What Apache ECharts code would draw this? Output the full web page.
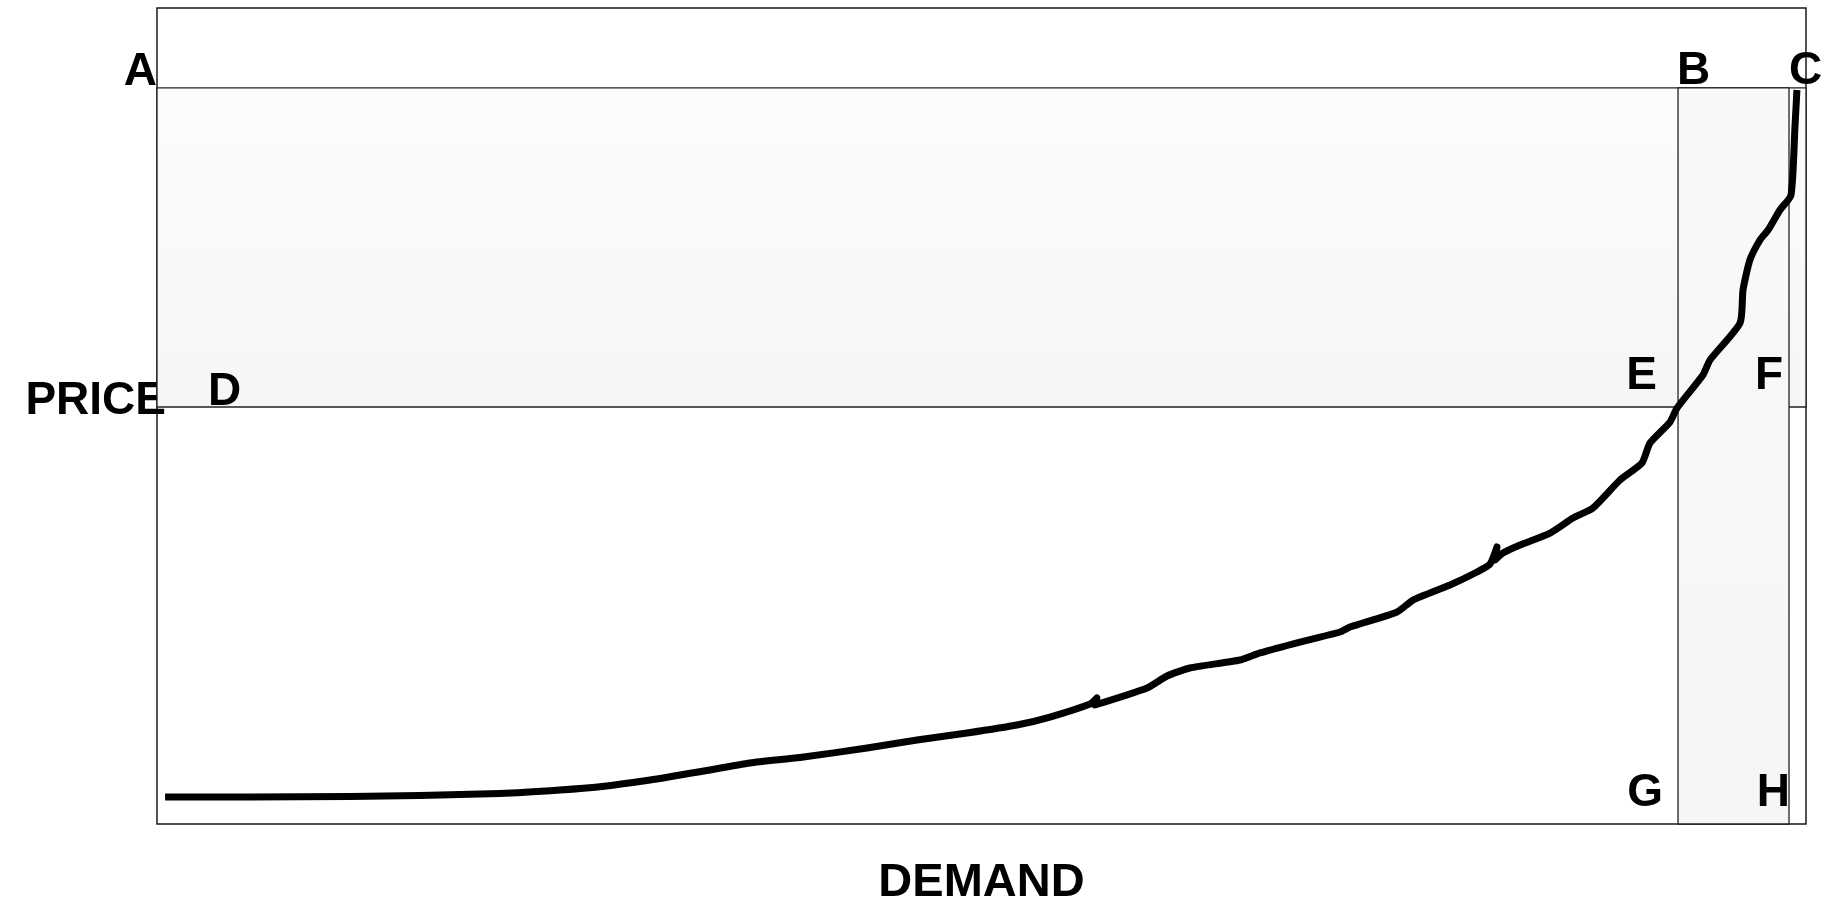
<!DOCTYPE html>
<html><head><meta charset="utf-8">
<script src="https://cdn.jsdelivr.net/npm/echarts@6/dist/echarts.min.js"></script>
<style>html,body{margin:0;padding:0;background:#fff}#c{width:1831px;height:900px}</style>
</head><body><div id="c"></div>
<script>
// Demand (x) and price (y) of the curve, on a 0-100 scale
const demand = [0.49, 5.64, 11.70, 15.95, 20.80, 24.44, 26.86, 29.90, 32.93, 35.96, 38.99, 43.06, 46.09, 49.12, 52.15, 54.15, 56.58, 57.00, 56.88, 60.04, 61.25, 62.64, 65.68, 66.89, 69.31, 71.74, 72.35, 75.20, 76.17, 78.41, 80.05, 80.84, 81.26, 81.14, 81.62, 82.66, 84.48, 85.87, 87.08, 88.72, 90.05, 90.54, 91.75, 92.18, 93.75, 94.18, 96.00, 96.18, 96.60, 97.21, 97.70, 98.42, 99.09, 99.33, 99.45];
const price  = [3.31, 3.31, 3.37, 3.49, 3.74, 4.17, 4.57, 5.39, 6.41, 7.48, 8.15, 9.31, 10.29, 11.15, 12.13, 13.11, 14.71, 15.44, 14.58, 16.67, 18.14, 19.12, 20.10, 20.96, 22.30, 23.53, 24.14, 25.98, 27.45, 29.29, 30.88, 31.86, 33.95, 32.35, 33.21, 34.19, 35.66, 37.50, 38.73, 42.16, 44.24, 46.69, 49.26, 50.98, 55.02, 56.86, 61.40, 65.44, 69.12, 71.57, 72.79, 75.25, 77.08, 85.42, 89.95];
// Reference levels
const priceHigh = 90.2;   // A–B–C line
const priceMid  = 51.1;   // D–E–F line
const demandG   = 92.24;  // B–E–G line
const demandH   = 98.97;  // C–F–H line
const axisMin = 0, axisMax = 100;
const cornerNames = ['A', 'B', 'C', 'D', 'E', 'F', 'G', 'H'];
const cornerDemand = [axisMin, demandG, demandH, axisMin, demandG, demandH, demandG, demandH];
const cornerPrice  = [priceHigh, priceHigh, priceHigh, priceMid, priceMid, priceMid, axisMin, axisMin];
const xTitle = 'DEMAND', yTitle = 'PRICE';

// label styling per corner (alignment + pixel offset from its corner)
const labelStyle = {
  A: { align: 'right', offset: [0, -16] },
  B: { align: 'left', offset: [-1, -17] },
  C: { align: 'left', offset: [0, -17] },
  D: { align: 'left', offset: [51, -15] },
  E: { align: 'right', offset: [-21, -31] },
  F: { align: 'right', offset: [-6, -31] },
  G: { align: 'right', offset: [-15, -31] },
  H: { align: 'right', offset: [1, -31] }
};
const font = { fontFamily: 'Liberation Sans, Arial, sans-serif', fontWeight: 'bold', fontSize: 46, color: '#000' };

const grad = (a, b) => ({ type: 'linear', x: 0, y: 0, x2: 0, y2: 1, colorStops: [{ offset: 0, color: a }, { offset: 1, color: b }] });

const chart = echarts.init(document.getElementById('c'), null, { renderer: 'canvas' });
chart.setOption({
  animation: false,
  backgroundColor: '#fff',
  grid: { left: 157, right: 25, top: 8, bottom: 76, containLabel: false, outerBoundsMode: 'none', show: true, borderColor: '#1a1a1a', borderWidth: 1.5, backgroundColor: 'transparent' },
  xAxis: {
    type: 'value', min: axisMin, max: axisMax,
    name: xTitle, nameLocation: 'middle', nameGap: 36,
    nameTextStyle: Object.assign({}, font, { fontSize: 47 }),
    axisLine: { show: false }, axisTick: { show: false }, axisLabel: { show: false }, splitLine: { show: false }
  },
  yAxis: {
    type: 'value', min: axisMin, max: axisMax,
    name: yTitle, nameLocation: 'middle', nameRotate: 0, nameGap: -9,
    nameTextStyle: Object.assign({ verticalAlign: 'bottom', lineHeight: 30 }, font),
    axisLine: { show: false }, axisTick: { show: false }, axisLabel: { show: false }, splitLine: { show: false }
  },
  series: [
    {
      type: 'line', data: [], z: 1, silent: true,
      markArea: {
        silent: true,
        label: { show: false },
        data: [
          [{ coord: [axisMin, priceMid], itemStyle: { color: grad('#fbfcfd', '#f5f6f6'), borderColor: '#222', borderWidth: 1.3 } }, { coord: [axisMax, priceHigh] }],
          [{ coord: [demandG, axisMin], itemStyle: { color: grad('#f8f9fb', '#f5f6f6'), borderColor: '#222', borderWidth: 1.3 } }, { coord: [demandH, priceHigh] }]
        ]
      }
    },
    {
      type: 'line', z: 3, silent: true,
      data: demand.map((d, i) => [d, price[i]]),
      showSymbol: false, symbol: 'none', smooth: 0.2,
      lineStyle: { color: '#000', width: 7, join: 'round', cap: 'butt' }
    },
    {
      type: 'line', data: [], z: 4, silent: true,
      markPoint: {
        silent: true,
        symbol: 'circle', symbolSize: 1,
        itemStyle: { color: 'rgba(0,0,0,0)' },
        data: cornerNames.map((n, i) => ({
          name: n, coord: [cornerDemand[i], cornerPrice[i]],
          label: Object.assign({ show: true, position: 'inside', formatter: n, verticalAlign: 'middle', align: labelStyle[n].align, offset: labelStyle[n].offset }, font)
        }))
      }
    }
  ]
});
</script></body></html>
